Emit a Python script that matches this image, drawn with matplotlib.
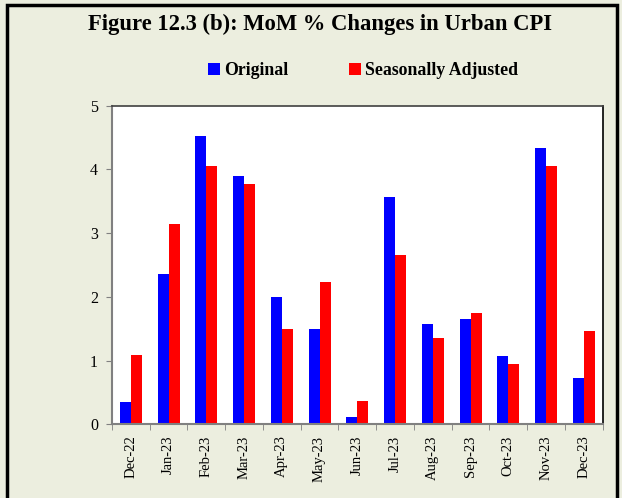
import numpy as np
import matplotlib.pyplot as plt
from matplotlib.patches import Rectangle

months = ['Dec-22', 'Jan-23', 'Feb-23', 'Mar-23', 'Apr-23', 'May-23', 'Jun-23',
          'Jul-23', 'Aug-23', 'Sep-23', 'Oct-23', 'Nov-23', 'Dec-23']
original = [0.35, 2.35, 4.53, 3.90, 2.00, 1.50, 0.11, 3.57, 1.58, 1.65, 1.07, 4.34, 0.72]
seas_adj = [1.09, 3.15, 4.05, 3.77, 1.50, 2.24, 0.37, 2.66, 1.35, 1.74, 0.94, 4.05, 1.46]

bg = '#ECEEDF'
plt.rcParams['font.family'] = ['Liberation Serif', 'DejaVu Serif']

fig = plt.figure(figsize=(6.22, 4.98), dpi=100, facecolor=bg)
ax = fig.add_axes([0.180, 0.148, 0.789, 0.640])

x = np.arange(len(months))
w = 0.29
ax.bar(x - w/2, original, w, color='#0000FF', label='Original')
ax.bar(x + w/2, seas_adj, w, color='#FF0000', label='Seasonally Adjusted')

ax.set_xlim(-0.5, len(months) - 0.5)
ax.set_ylim(0, 5)
ax.set_yticks([0, 1, 2, 3, 4, 5])
ax.tick_params(axis='y', labelsize=11.5, length=4, color='#808080', pad=6)
ax.set_xticks(x)
ax.set_xticklabels(months, rotation=90, fontsize=10.5)
ax.tick_params(axis='x', length=0, pad=8)
ax.set_xticks(np.arange(-0.5, len(months)), minor=True)
ax.tick_params(axis='x', which='minor', length=4, color='#808080')

for s in ['left', 'bottom']:
    ax.spines[s].set_color('#808080')
    ax.spines[s].set_linewidth(1.5)
ax.spines['top'].set_color('#404040')
ax.spines['right'].set_color('#000000')
ax.spines['top'].set_linewidth(1.2)
ax.spines['right'].set_linewidth(1.2)

fig.text(0.515, 0.95, 'Figure 12.3 (b): MoM % Changes in Urban CPI',
         ha='center', va='center', fontsize=16.3, fontweight='bold')

ax.legend(loc='center', bbox_to_anchor=(0.512, 1.11), ncol=2, frameon=False,
          prop={'weight': 'bold', 'size': 12.8}, handlelength=0.65, handleheight=0.65,
          handletextpad=0.25, columnspacing=3.4)

fig.patches.append(Rectangle((0.012, -0.1), 0.980, 1.09, transform=fig.transFigure,
                             fill=False, edgecolor='black', linewidth=2.5))

fig.savefig('out.png', dpi=100, facecolor=bg)
